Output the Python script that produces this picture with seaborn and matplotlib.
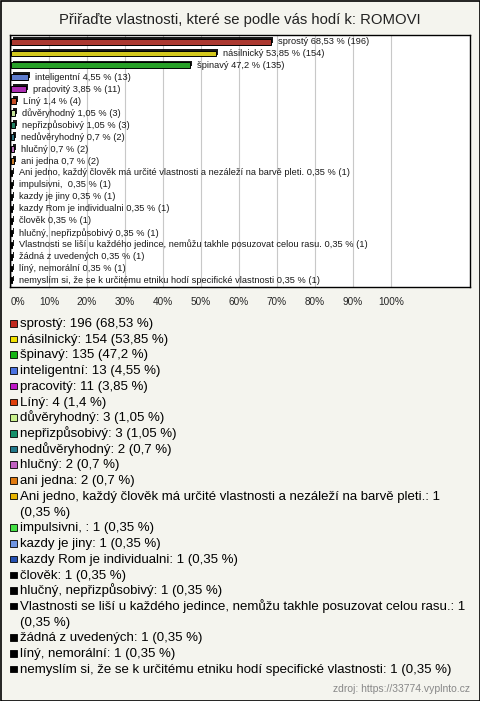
import textwrap
import pandas as pd
import matplotlib
matplotlib.use('Agg')
import matplotlib.pyplot as plt
import matplotlib.patheffects as pe
from matplotlib.patches import Rectangle
import seaborn as sns

# Data
categories = [
    'sprostý', 'násilnický', 'špinavý', 'inteligentní', 'pracovitý', 'Líný',
    'důvěryhodný', 'nepřizpůsobivý', 'nedůvěryhodný', 'hlučný', 'ani jedna',
    'Ani jedno, každý člověk má určité vlastnosti a nezáleží na barvě pleti.',
    'impulsivni, ', 'kazdy je jiny', 'kazdy Rom je individualni', 'člověk',
    'hlučný, nepřizpůsobivý',
    'Vlastnosti se liší u každého jedince, nemůžu takhle posuzovat celou rasu.',
    'žádná z uvedených', 'líný, nemorální',
    'nemyslím si, že se k určitému etniku hodí specifické vlastnosti',
]
counts = [196, 154, 135, 13, 11, 4, 3, 3, 2, 2, 2, 1, 1, 1, 1, 1, 1, 1, 1, 1, 1]
percents = [68.53, 53.85, 47.2, 4.55, 3.85, 1.4, 1.05, 1.05, 0.7, 0.7, 0.7,
            0.35, 0.35, 0.35, 0.35, 0.35, 0.35, 0.35, 0.35, 0.35, 0.35]
colors = ['#c0281c', '#f2e200', '#14b414', '#4a72e0', '#c018c8', '#e0400c',
          '#c8f08c', '#14906a', '#20788a', '#c060c0', '#e07a10', '#e8b400',
          '#44e044', '#6e94e0', '#2450b0', '#000000', '#000000', '#000000',
          '#000000', '#000000', '#000000']
xticks = [0, 10, 20, 30, 40, 50, 60, 70, 80, 90, 100]
title = 'Přiřaďte vlastnosti, které se podle vás hodí k: ROMOVI'
source = 'zdroj: https://33774.vyplnto.cz'

BG = '#f4f4ee'
W, H = 480, 701


def fmt(p):
    return f'{p:g}'.replace('.', ',')


df = pd.DataFrame({'cat': categories, 'pct': percents, 'count': counts})

sns.set_theme(style='white')
plt.rcParams['font.family'] = ['Liberation Sans', 'DejaVu Sans']

fig = plt.figure(figsize=(W / 100, H / 100), dpi=100, facecolor=BG)
ax = fig.add_axes([10 / W, 1 - 287 / H, 460 / W, 252 / H])
ax.set_facecolor('white')

sns.barplot(data=df, x='pct', y='cat', hue='cat', palette=colors, orient='h',
            width=0.5, edgecolor='black', linewidth=0.7, legend=False,
            dodge=False, ax=ax)

# fake 3D look
for bar in ax.patches:
    bar.set_path_effects([pe.SimplePatchShadow(offset=(1.4, 1.4),
                                               shadow_rgbFace='black', alpha=0.9),
                          pe.Normal()])

for cont, cat, p, c in zip(ax.containers, categories, percents, counts):
    ax.bar_label(cont, labels=[f'{cat} {fmt(p)} % ({c})'], padding=5,
                 fontsize=6.7, color='#1a1a1a')

ax.set_xlim(-0.26, 120.8)
ax.set_ylim(20.55, -0.55)
ax.set_xticks(xticks)
ax.set_xticklabels([f'{t}%' for t in xticks], fontsize=7.2)
ax.get_xticklabels()[0].set_ha('left')
ax.tick_params(axis='x', length=0, pad=7)
ax.set_yticks([])
ax.set_xlabel('')
ax.set_ylabel('')
ax.grid(axis='x', color='#c8c8c8', linewidth=0.8)
ax.set_axisbelow(True)
for s in ax.spines.values():
    s.set_color('black')
    s.set_linewidth(1)

fig.text(0.5, 1 - 20 / H, title, ha='center', va='center', fontsize=10.7,
         color='#222222')

# legend below the chart, baselines every ~15.7 px
line_h = 15.72
y0 = 327.0
line = 0
for cat, c, p, col in zip(categories, counts, percents, colors):
    label = textwrap.fill(f'{cat}: {c} ({fmt(p)} %)', width=76)
    yb = y0 + line * line_h
    fig.add_artist(Rectangle((10 / W, 1 - (yb - 0.5) / H), 6.5 / W, 6.5 / H,
                             transform=fig.transFigure, facecolor=col,
                             edgecolor='black', linewidth=0.6))
    for k, part in enumerate(label.split('\n')):
        fig.text(20 / W, 1 - (yb + k * line_h) / H, part, ha='left',
                 va='baseline', fontsize=9.5, color='black')
    line += label.count('\n') + 1

fig.text(1 - 10 / W, 1 - 689 / H, source, ha='right', va='center',
         fontsize=7.5, color='#888888')

fig.add_artist(Rectangle((0.5 / W, 0.5 / H), (W - 1) / W, (H - 1) / H,
                         transform=fig.transFigure, fill=False,
                         edgecolor='black', linewidth=1.2))

fig.savefig('out.png', dpi=100, facecolor=BG)
